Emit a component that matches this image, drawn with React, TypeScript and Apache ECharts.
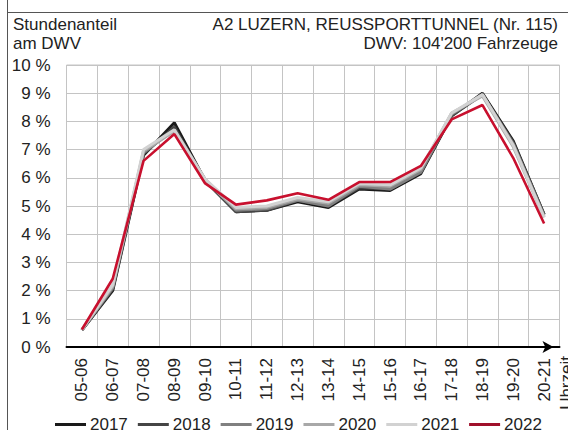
import React, { useEffect, useRef } from "react";
import * as echarts from "echarts";

const categories = ["05-06", "06-07", "07-08", "08-09", "09-10", "10-11", "11-12", "12-13", "13-14", "14-15", "15-16", "16-17", "17-18", "18-19", "19-20", "20-21"];
const years = ["2017", "2018", "2019", "2020", "2021", "2022"];
const v2017 = [0.6, 2.0, 6.8, 7.95, 5.9, 4.8, 4.85, 5.15, 4.95, 5.6, 5.55, 6.15, 8.2, 9.0, 7.3, 4.7];
const v2018 = [0.6, 2.05, 6.85, 7.8, 5.9, 4.8, 4.85, 5.2, 5.0, 5.65, 5.6, 6.2, 8.2, 8.95, 7.25, 4.7];
const v2019 = [0.62, 2.1, 6.9, 7.7, 5.95, 4.85, 4.9, 5.2, 5.0, 5.7, 5.6, 6.2, 8.25, 8.95, 7.2, 4.65];
const v2020 = [0.6, 2.15, 6.95, 7.65, 5.9, 4.9, 4.95, 5.25, 5.1, 5.75, 5.7, 6.3, 8.3, 8.9, 7.1, 4.6];
const v2021 = [0.62, 2.2, 7.0, 7.7, 5.95, 4.95, 5.0, 5.3, 5.15, 5.8, 5.75, 6.35, 8.3, 8.95, 7.15, 4.6];
const v2022 = [0.62, 2.42, 6.6, 7.55, 5.8, 5.05, 5.2, 5.45, 5.22, 5.85, 5.85, 6.42, 8.07, 8.58, 6.7, 4.38];
const yTicks = [0, 1, 2, 3, 4, 5, 6, 7, 8, 9, 10];
const titleLeft1 = "Stundenanteil";
const titleLeft2 = "am DWV";
const titleRight1 = "A2 LUZERN, REUSSPORTTUNNEL (Nr. 115)";
const titleRight2 = "DWV: 104'200 Fahrzeuge";
const xName = "Uhrzeit";

const FONT = "'Liberation Sans', Arial, sans-serif";
const colors = ["#1a1a1a", "#454545", "#808080", "#a8a8a8", "#d2d2d2", "#c8102e"];
const legendColors = ["#1a1a1a", "#454545", "#808080", "#a8a8a8", "#d2d2d2", "#a0102a"];
const widths = [3, 3, 3, 3, 3, 2.6];

export default function App() {
  const ref = useRef<HTMLDivElement>(null);
  useEffect(() => {
    if (!ref.current) return;
    const chart = echarts.init(ref.current, null, { renderer: "svg" });
    const allValues = [v2017, v2018, v2019, v2020, v2021, v2022];
    chart.setOption({
      animation: false,
      backgroundColor: "#ffffff",
      textStyle: { fontFamily: FONT },
      grid: {
        left: 66.5,
        right: 8.5,
        top: 65,
        bottom: 83,
        show: true,
        borderColor: "#c4c4c4",
        borderWidth: 1,
      },
      legend: {
        data: years.map((y, i) => ({ name: y, itemStyle: { color: legendColors[i] } })),
        left: 50,
        top: 411,
        icon: "rect",
        itemWidth: 31,
        itemHeight: 3,
        itemGap: 10,
        textStyle: { fontSize: 17, color: "#222", fontFamily: FONT, padding: [0, 0, 0, -1] },
      },
      xAxis: {
        type: "category",
        data: categories,
        boundaryGap: true,
        axisTick: { show: false },
        axisLine: {
          show: true,
          lineStyle: { color: "#000", width: 2 },
          symbol: ["none", "arrow"],
          symbolSize: [9, 11],
          symbolOffset: [0, -6],
        },
        axisLabel: {
          rotate: 90,
          fontSize: 17,
          color: "#222",
          margin: 11,
          fontFamily: FONT,
          interval: 0,
        },
        splitLine: { show: true, lineStyle: { color: "#c4c4c4", width: 1 } },
      },
      yAxis: {
        type: "value",
        min: yTicks[0],
        max: yTicks[yTicks.length - 1],
        interval: 1,
        axisLine: { show: false },
        axisTick: { show: false },
        axisLabel: {
          fontSize: 17,
          color: "#222",
          margin: 16,
          fontFamily: FONT,
          formatter: (v: number) => `${v} %`,
        },
        splitLine: { show: true, lineStyle: { color: "#c4c4c4", width: 1 } },
      },
      series: years.map((y, i) => ({
        name: y,
        type: "line",
        data: allValues[i],
        symbol: "none",
        z: 2 + i,
        lineStyle: { color: colors[i], width: widths[i] },
        itemStyle: { color: legendColors[i] },
      })),
      graphic: [
        { type: "line", shape: { x1: 7.5, y1: 0, x2: 7.5, y2: 430 }, style: { stroke: "#555", lineWidth: 1 } },
        { type: "line", shape: { x1: 7, y1: 12.5, x2: 568, y2: 12.5 }, style: { stroke: "#555", lineWidth: 1 } },
        { type: "text", x: 13, y: 24, style: { text: titleLeft1, font: `17px ${FONT}`, fill: "#222", verticalAlign: "middle", align: "left" } },
        { type: "text", x: 13, y: 43, style: { text: titleLeft2, font: `17px ${FONT}`, fill: "#222", verticalAlign: "middle", align: "left" } },
        { type: "text", x: 558, y: 24, style: { text: titleRight1, font: `17px ${FONT}`, fill: "#222", verticalAlign: "middle", align: "right" } },
        { type: "text", x: 558, y: 43, style: { text: titleRight2, font: `17px ${FONT}`, fill: "#222", verticalAlign: "middle", align: "right" } },
        { type: "text", x: 566, y: 356, rotation: Math.PI / 2, style: { text: xName, font: `17px ${FONT}`, fill: "#222", verticalAlign: "middle", align: "right" } },
      ],
    });
    return () => chart.dispose();
  }, []);
  return <div ref={ref} style={{ position: "fixed", left: 0, top: 0, width: 568, height: 430 }} />;
}
